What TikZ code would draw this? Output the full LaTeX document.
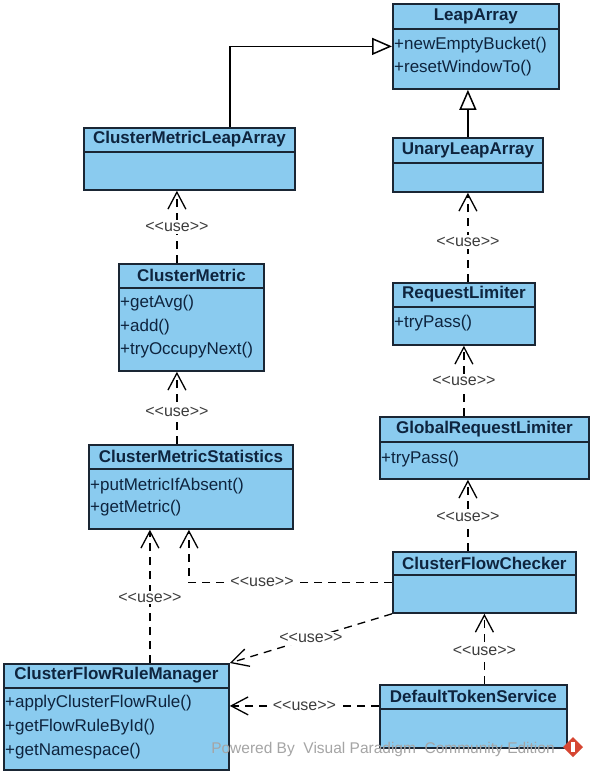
\documentclass[tikz,border=0pt]{standalone}
\usepackage{fontspec}
\setmainfont{Liberation Sans}
\newfontfamily\lblfont{Liberation Sans}
\usetikzlibrary{arrows.meta,calc}
\definecolor{clsfill}{RGB}{138,203,239}
\definecolor{clsdraw}{RGB}{26,38,52}
\definecolor{clstext}{RGB}{14,36,62}
\definecolor{lbltext}{RGB}{60,60,60}
\definecolor{wmgray}{RGB}{165,165,165}
\definecolor{vpred}{RGB}{214,70,50}
\newcommand{\uselbl}{<\kern0pt<use>\kern0pt>}
\newcommand{\umlcls}[7]{%
  \pgfmathsetmacro{\cw}{#4-#2}\pgfmathsetmacro{\ch}{#5-#3}\pgfmathsetmacro{\th}{#6/2}%
  \node[cls, anchor=north west, minimum width=\cw pt, minimum height=\ch pt] (#1) at (#2,#3) {};
  \draw[sepline] ([yshift=-#6pt]#1.north west) -- ([yshift=-#6pt]#1.north east);
  \node[ttl] (#1-t) at ([yshift=-\th pt]#1.north) {#7};
}
\newcommand{\umlmth}[4]{%
  \node[mth] (#1-#2) at ([xshift=2pt,yshift=-#3pt]#1.north west) {#4};
}
\tikzset{
 cls/.style={draw=clsdraw, fill=clsfill, line width=1.8pt, inner sep=0pt, rectangle},
 sepline/.style={draw=clsdraw, line width=1.5pt},
 ttl/.style={inner sep=0pt, text=clstext, font=\bfseries\fontsize{17}{20}\selectfont},
 mth/.style={inner sep=0pt, anchor=west, text=clstext, font=\fontsize{17}{20}\selectfont},
 lbl/.style={fill=white, inner sep=2pt, text=lbltext, font=\lblfont\fontsize{16}{19}\selectfont},
 dep/.style={draw=black, line width=1.3pt, dash pattern=on 8pt off 6pt, -{Straight Barb[length=17pt,width=18pt]}},
 gen/.style={draw=black, line width=1.5pt, -{Triangle[length=20pt,width=17pt,fill=white]}},
}
\begin{document}
\begin{tikzpicture}[x=1pt,y=-1pt]
\fill[white] (0,0) rectangle (590,776);
\useasboundingbox (0,0) rectangle (590,776);

\umlcls{lp}{392}{3}{558}{88}{26}{LeapArray}
\umlmth{lp}{m1}{42}{+newEmptyBucket()}
\umlmth{lp}{m2}{65}{+resetWindowTo()}

\umlcls{cmla}{83}{127}{294}{189}{25}{ClusterMetricLeapArray}

\umlcls{ula}{392}{137}{542}{191}{26}{UnaryLeapArray}

\umlcls{cm}{118}{263}{263}{370}{25}{ClusterMetric}
\umlmth{cm}{m1}{40}{+getAvg()}
\umlmth{cm}{m2}{64}{+add()}
\umlmth{cm}{m3}{87}{+tryOccupyNext()}

\umlcls{rl}{392}{282}{534}{344}{25}{RequestLimiter}
\umlmth{rl}{m1}{41}{+tryPass()}

\umlcls{cms}{88}{444}{292}{528}{25}{ClusterMetricStatistics}
\umlmth{cms}{m1}{42}{+putMetricIfAbsent()}
\umlmth{cms}{m2}{64}{+getMetric()}

\umlcls{grl}{379}{416}{588}{478}{26}{GlobalRequestLimiter}
\umlmth{grl}{m1}{43}{+tryPass()}

\umlcls{cfc}{392}{551}{575}{612}{24}{ClusterFlowChecker}

\umlcls{cfrm}{3}{663}{228}{769}{25}{ClusterFlowRuleManager}
\umlmth{cfrm}{m1}{40}{+applyClusterFlowRule()}
\umlmth{cfrm}{m2}{64}{+getFlowRuleById()}
\umlmth{cfrm}{m3}{88}{+getNamespace()}

\umlcls{dts}{379}{684}{566}{747}{25}{DefaultTokenService}

% generalizations
\draw[gen] ([xshift=40.5pt]cmla.north) |- (lp.west);
\draw[gen] (ula.north) -- (ula.north |- lp.south);

% dependencies
\draw[dep] ([xshift=-14.5pt]cm.north) -- ([xshift=-14.5pt]cm.north |- cmla.south) node[lbl,midway] (u1) {\uselbl};
\draw[dep] ([xshift=-14pt]cms.north) -- ([xshift=-14pt]cms.north |- cm.south) node[lbl,pos=0.45] (u2) {\uselbl};
\draw[dep] (rl.north -| ula.south) -- (ula.south) node[lbl,pos=0.45] (u3) {\uselbl};
\draw[dep] (grl.north -| rl.south) -- (rl.south) node[lbl,midway] (u4) {\uselbl};
\draw[dep] ([xshift=-16.5pt]cfc.north) -- ([xshift=-16.5pt]cfc.north |- grl.south) node[lbl,pos=0.48] (u5) {\uselbl};
\draw[dep] (dts.north -| cfc.south) -- (cfc.south) node[lbl,pos=0.47] (u6) {\uselbl};
\draw[dep] (cfc.west) -| ([xshift=-2pt]cms.south) node[lbl,pos=0.32] (u7) {\uselbl};
\draw[dep] ([xshift=33.5pt]cfrm.north) -- ([xshift=33.5pt]cfrm.north |- cms.south) node[lbl,pos=0.49] (u8) {\uselbl};
\draw[dep] (cfc.south west) -- (cfrm.north east) node[lbl,midway] (u9) {\uselbl};
\draw[dep] ([yshift=10.5pt]dts.west) -- ([yshift=10.5pt]dts.west -| cfrm.east) node[lbl,midway] (u10) {\uselbl};

% footer
\node[text=wmgray, inner sep=0pt, font=\fontsize{15.5}{18}\selectfont] (pw) at (383,749) {Powered By\ \ Visual Paradigm\ \ Community Edition};
\fill[vpred] (573,737) -- (583,747) -- (573,757) -- (563,747) -- cycle;
\fill[white] (571,742) rectangle (575,752);
\end{tikzpicture}
\end{document}
